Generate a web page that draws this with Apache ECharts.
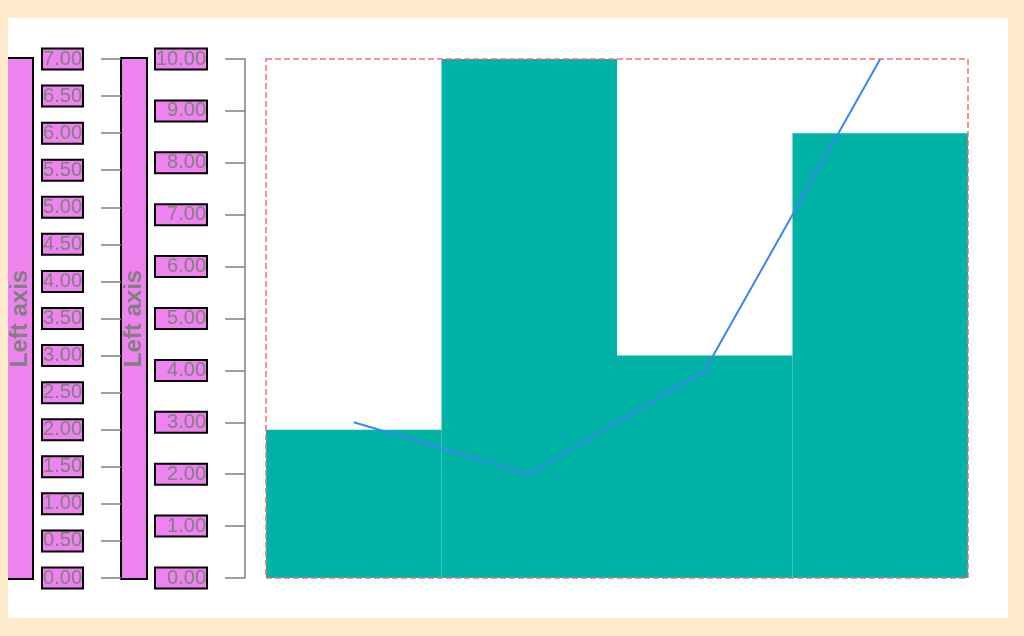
<!DOCTYPE html>
<html>
<head>
<meta charset="utf-8">
<script src="https://cdn.jsdelivr.net/npm/echarts@6/dist/echarts.min.js"></script>
<style>
  html, body { margin: 0; padding: 0; background: #FFEBCD; }
  #chart { position: absolute; left: 8px; top: 18px; width: 1000px; height: 600px; background: #ffffff; }
</style>
</head>
<body>
<div id="chart"></div>
<script>
// Four categories, bars on the 0–7 axis, line on the 0–10 axis
const categories = ['A', 'B', 'C', 'D'];
const barValues = [2, 7, 3, 6];
const lineValues = [3, 2, 4, 10];

const outerAxisMax = 7;
const outerAxisStep = 0.5;
const innerAxisMax = 10;
const innerAxisStep = 1;
const axisTitle = 'Left axis';

const chart = echarts.init(document.getElementById('chart'), null, { renderer: 'canvas' });

const GRAY = '#808080';
const FONT = 'Liberation Sans, Arial, sans-serif';

function makeYAxis(max, step, offset, labelWidth, nameGap, showLine) {
  return {
    type: 'value',
    position: 'left',
    min: 0,
    max: max,
    interval: step,
    offset: offset,
    name: '{box|' + axisTitle + '}',
    nameLocation: 'middle',
    nameRotate: 90,
    nameGap: nameGap,
    nameMoveOverlap: false,
    nameTruncate: { maxWidth: null },
    nameTextStyle: {
      rich: {
        box: {
          fontFamily: FONT,
          fontSize: 24,
          fontWeight: 'bold',
          color: GRAY,
          backgroundColor: 'violet',
          borderColor: '#000',
          borderWidth: 2,
          width: 519,
          height: 24,
          lineHeight: 24,
          align: 'center'
        }
      }
    },
    axisLine: { show: showLine, lineStyle: { color: GRAY, width: 1.5 } },
    axisTick: { show: true, length: 20, lineStyle: { color: GRAY, width: 1.5 } },
    splitLine: { show: false },
    axisLabel: {
      margin: 39,
      fontFamily: FONT,
      fontSize: 20,
      lineHeight: 19,
      color: GRAY,
      backgroundColor: 'violet',
      borderColor: '#000',
      borderWidth: 2,
      width: labelWidth,
      align: 'right',
      formatter: v => v.toFixed(2)
    }
  };
}

chart.setOption({
  animation: false,
  grid: {
    show: true,
    left: 258,
    right: 40,
    top: 41,
    bottom: 40,
    backgroundColor: 'transparent',
    borderColor: '#F36F6F',
    borderWidth: 1.5,
    borderType: 'dashed',
    outerBoundsMode: 'none',
    z: 5
  },
  xAxis: {
    type: 'category',
    data: categories,
    axisLine: { show: false },
    axisTick: { show: false },
    axisLabel: { show: false },
    splitLine: { show: false }
  },
  yAxis: [
    makeYAxis(outerAxisMax, outerAxisStep, 145, 39, 89, false),
    makeYAxis(innerAxisMax, innerAxisStep, 21, 50, 99, true)
  ],
  series: [
    {
      type: 'bar',
      yAxisIndex: 0,
      data: barValues,
      barCategoryGap: '0%',
      itemStyle: { color: '#00B3A6' }
    },
    {
      type: 'line',
      yAxisIndex: 1,
      data: lineValues,
      showSymbol: false,
      symbol: 'none',
      lineStyle: { color: '#3B86F2', width: 2 },
      z: 3
    }
  ]
});
</script>
</body>
</html>
